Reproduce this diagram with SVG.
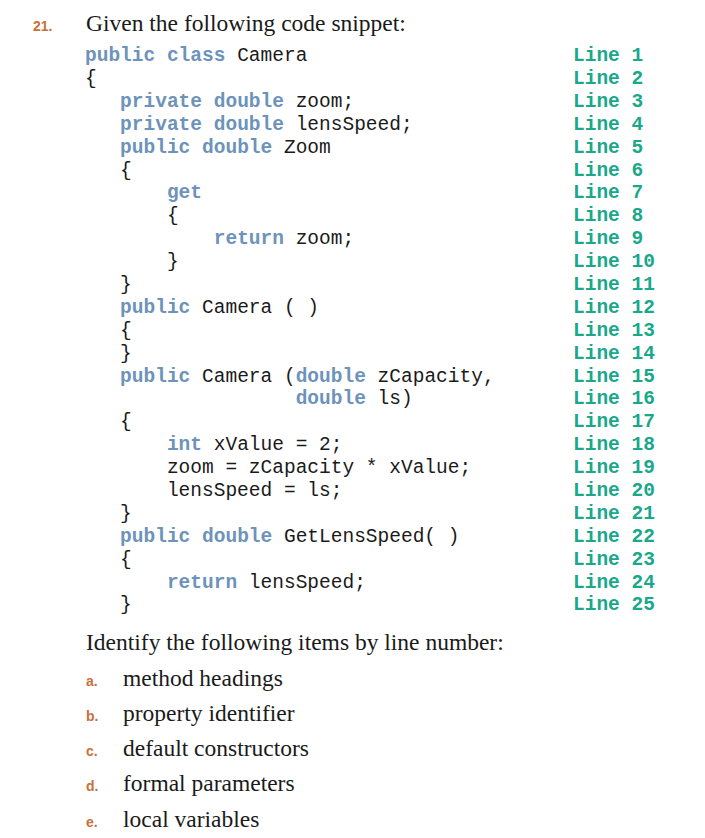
<svg xmlns="http://www.w3.org/2000/svg" width="705" height="838" viewBox="0 0 705 838">
<style>
.c{font-family:"Liberation Mono",monospace;font-size:19.5px;fill:#1a1a1a;white-space:pre}
.k{fill:#6d93ba;font-weight:bold}
.l{font-family:"Liberation Mono",monospace;font-size:19.5px;fill:#1aa88a;font-weight:bold}
.s{font-family:"Liberation Serif",serif;font-size:23.5px;fill:#1a1a1a}
.n{font-family:"Liberation Sans",sans-serif;font-size:14px;fill:#c8703a;font-weight:bold}
</style>
<rect width="705" height="838" fill="#fff"/>
<text class="n" x="33" y="31">21.</text>
<text class="s" x="86" y="31">Given the following code snippet:</text>
<g id="code" xml:space="preserve">
<text class="c" x="85" y="61"><tspan class="k">public class</tspan> Camera</text>
<text class="c" x="85" y="84">{</text>
<text class="c" x="85" y="107">   <tspan class="k">private double</tspan> zoom;</text>
<text class="c" x="85" y="130">   <tspan class="k">private double</tspan> lensSpeed;</text>
<text class="c" x="85" y="153">   <tspan class="k">public double</tspan> Zoom</text>
<text class="c" x="85" y="176">   {</text>
<text class="c" x="85" y="198">       <tspan class="k">get</tspan></text>
<text class="c" x="85" y="221">       {</text>
<text class="c" x="85" y="244">           <tspan class="k">return</tspan> zoom;</text>
<text class="c" x="85" y="267">       }</text>
<text class="c" x="85" y="290">   }</text>
<text class="c" x="85" y="313">   <tspan class="k">public</tspan> Camera ( )</text>
<text class="c" x="85" y="336">   {</text>
<text class="c" x="85" y="359">   }</text>
<text class="c" x="85" y="382">   <tspan class="k">public</tspan> Camera (<tspan class="k">double</tspan> zCapacity,</text>
<text class="c" x="85" y="404">                  <tspan class="k">double</tspan> ls)</text>
<text class="c" x="85" y="427">   {</text>
<text class="c" x="85" y="450">       <tspan class="k">int</tspan> xValue = 2;</text>
<text class="c" x="85" y="473">       zoom = zCapacity * xValue;</text>
<text class="c" x="85" y="496">       lensSpeed = ls;</text>
<text class="c" x="85" y="519">   }</text>
<text class="c" x="85" y="542">   <tspan class="k">public double</tspan> GetLensSpeed( )</text>
<text class="c" x="85" y="565">   {</text>
<text class="c" x="85" y="588">       <tspan class="k">return</tspan> lensSpeed;</text>
<text class="c" x="85" y="610">   }</text>
</g>
<g id="lines">
<text class="l" x="573" y="61">Line 1</text>
<text class="l" x="573" y="84">Line 2</text>
<text class="l" x="573" y="107">Line 3</text>
<text class="l" x="573" y="130">Line 4</text>
<text class="l" x="573" y="153">Line 5</text>
<text class="l" x="573" y="176">Line 6</text>
<text class="l" x="573" y="198">Line 7</text>
<text class="l" x="573" y="221">Line 8</text>
<text class="l" x="573" y="244">Line 9</text>
<text class="l" x="573" y="267">Line 10</text>
<text class="l" x="573" y="290">Line 11</text>
<text class="l" x="573" y="313">Line 12</text>
<text class="l" x="573" y="336">Line 13</text>
<text class="l" x="573" y="359">Line 14</text>
<text class="l" x="573" y="382">Line 15</text>
<text class="l" x="573" y="404">Line 16</text>
<text class="l" x="573" y="427">Line 17</text>
<text class="l" x="573" y="450">Line 18</text>
<text class="l" x="573" y="473">Line 19</text>
<text class="l" x="573" y="496">Line 20</text>
<text class="l" x="573" y="519">Line 21</text>
<text class="l" x="573" y="542">Line 22</text>
<text class="l" x="573" y="565">Line 23</text>
<text class="l" x="573" y="588">Line 24</text>
<text class="l" x="573" y="610">Line 25</text>
</g>
<g id="questions">
<text class="s" x="86" y="650">Identify the following items by line number:</text>
<text class="n" x="86" y="686">a.</text><text class="s" x="123" y="686">method headings</text>
<text class="n" x="86" y="721">b.</text><text class="s" x="123" y="721">property identifier</text>
<text class="n" x="86" y="756">c.</text><text class="s" x="123" y="756">default constructors</text>
<text class="n" x="86" y="791">d.</text><text class="s" x="123" y="791">formal parameters</text>
<text class="n" x="86" y="827">e.</text><text class="s" x="123" y="827">local variables</text>
</g>
</svg>
